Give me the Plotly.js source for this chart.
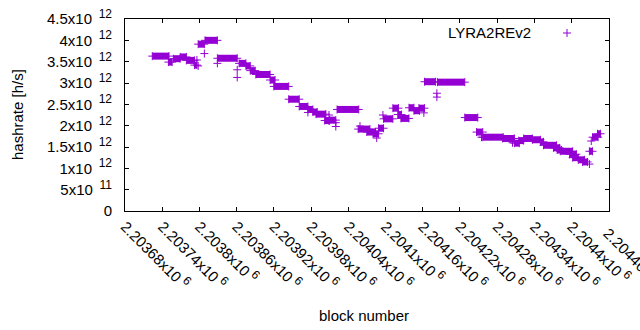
<!DOCTYPE html>
<html>
<head>
<meta charset="utf-8">
<script src="https://cdn.plot.ly/plotly-3.0.1.min.js"></script>
<style>html,body{margin:0;padding:0;background:#fff;}#chart{width:640px;height:330px;}</style>
</head>
<body>
<div id="chart"></div>
<script>
// Runs of consecutive blocks at (nearly) constant hashrate
const runStart = [2203724,2203750,2203758,2203769,2203779,2203792,2203798,2203809,2203829,2203864,
  2203875,2203882,2203891,2203914,2203920,2203944,2203961,2203975,2203983,2203988,
  2204002,2204010,2204022,2204056,2204070,2204080,2204089,2204097,2204112,2204120,
  2204125,2204138,2204146,2204154,2204163,2204184,2204228,2204247,2204257,2204289,
  2204308,2204315,2204323,2204337,2204350,2204355,2204371,2204377,2204382,2204397,
  2204402,2204411,2204418,2204429,2204434,2204442];
const runEnd = [2203751,2203756,2203769,2203779,2203792,2203796,2203808,2203829,2203861,2203875,
  2203882,2203890,2203914,2203922,2203944,2203961,2203975,2203983,2203990,2204004,
  2204010,2204020,2204057,2204075,2204084,2204089,2204097,2204112,2204121,2204126,
  2204138,2204146,2204155,2204163,2204181,2204228,2204249,2204257,2204290,2204308,
  2204316,2204323,2204337,2204350,2204355,2204376,2204381,2204384,2204402,2204408,
  2204411,2204421,2204426,2204434,2204443,2204447];
const runValue = [3.63e12,3.49e12,3.57e12,3.61e12,3.53e12,3.42e12,3.91e12,4.00e12,3.58e12,3.46e12,
  3.40e12,3.29e12,3.20e12,3.07e12,2.92e12,2.62e12,2.45e12,2.38e12,2.32e12,2.27e12,
  2.12e12,2.13e12,2.38e12,1.92e12,1.85e12,1.81e12,1.94e12,2.16e12,2.41e12,2.26e12,
  2.17e12,2.42e12,2.35e12,2.41e12,3.03e12,3.02e12,2.19e12,1.85e12,1.73e12,1.70e12,
  1.59e12,1.65e12,1.70e12,1.67e12,1.62e12,1.54e12,1.48e12,1.43e12,1.40e12,1.33e12,
  1.25e12,1.20e12,1.15e12,1.40e12,1.73e12,1.81e12];
// Isolated blocks
const ptBlock = [2203796,2203798,2203808,2203829,2203861,2203861,2203975,2204009,2204009,2204020,
  2204020,2204059,2204086,2204096,2204162,2204183,2204183,2204255,2204305,2204429,2204432];
const ptValue = [3.54e12,3.40e12,3.69e12,3.46e12,3.31e12,3.13e12,2.31e12,2.25e12,2.11e12,2.07e12,
  1.98e12,1.99e12,1.71e12,2.25e12,2.30e12,2.76e12,2.67e12,1.73e12,1.60e12,1.10e12,1.64e12];

const SUP = (s) => '<sup><span style="font-size:12px">\u00a0' + s + '</span></sup>';
const xTickVals = [2203680,2203740,2203800,2203860,2203920,2203980,2204040,2204100,2204160,2204220,2204280,2204340,2204400,2204460];
const xTickBase = ["2.20368x10","2.20374x10","2.2038x10","2.20386x10","2.20392x10","2.20398x10","2.20404x10",
  "2.2041x10","2.20416x10","2.20422x10","2.20428x10","2.20434x10","2.2044x10","2.20446x10"];
const xTickExp = ["6","6","6","6","6","6","6","6","6","6","6","6","6","6"];
const yTickVals = [0,0.5e12,1e12,1.5e12,2e12,2.5e12,3e12,3.5e12,4e12,4.5e12];
const yTickBase = ["0","5x10","1x10","1.5x10","2x10","2.5x10","3x10","3.5x10","4x10","4.5x10"];
const yTickExp = ["","11","12","12","12","12","12","12","12","12"];

const nX = xTickVals.length;
const xTickText = xTickBase.map((b, i) => b + SUP(xTickExp[i]));
const xTickShown = xTickText.map((t, i) => i === nX - 1 ? '' : t);
const yTickText = yTickBase.map((b, i) => yTickExp[i] ? b + SUP('\u00a0' + yTickExp[i]) : b);

const COLOR = '#9400d3';
const FONT = 'Liberation Sans, Arial, sans-serif';

const lx = [], ly = [];
for (let i = 0; i < runStart.length; i++) {
  lx.push(runStart[i], runEnd[i], null);
  ly.push(runValue[i], runValue[i], null);
}
const mx = runStart.concat(runEnd, ptBlock);
const my = runValue.concat(runValue, ptValue);

const traces = [
  {x: lx, y: ly, type: 'scatter', mode: 'lines', connectgaps: false,
   line: {color: COLOR, width: 7}, showlegend: false, hoverinfo: 'skip'},
  {x: mx, y: my, type: 'scatter', mode: 'markers', name: 'LYRA2REv2',
   marker: {symbol: 'cross-thin', size: 5.7, color: COLOR, line: {color: COLOR, width: 1}},
   showlegend: false, hoverinfo: 'skip'}
];

const pw = 484, ph = 192;
const cx = (567 - 125) / pw, cy = (211 - 33) / ph;
const dx = 4 / pw, dy = 4 / ph;

const layout = {
  width: 640, height: 330,
  margin: {l: 125, r: 31, t: 19, b: 119, pad: 0},
  paper_bgcolor: '#fff', plot_bgcolor: '#fff',
  font: {family: FONT, size: 15, color: '#000'},
  showlegend: false,
  xaxis: {
    range: [2203680, 2204460.6], tickmode: 'array', tickvals: xTickVals, ticktext: xTickShown,
    tickangle: 45, ticks: 'inside', ticklen: 4, tickcolor: '#000', tickwidth: 1,
    showline: true, mirror: 'ticks', linecolor: '#000', linewidth: 1,
    showgrid: false, zeroline: false, tickfont: {family: FONT, size: 15, color: '#000'}
  },
  yaxis: {
    range: [0, 4.5e12], tickmode: 'array', tickvals: yTickVals, ticktext: yTickText,
    ticks: 'inside', ticklen: 4, tickcolor: '#000', tickwidth: 1,
    showline: true, mirror: 'ticks', linecolor: '#000', linewidth: 1,
    showgrid: false, zeroline: false, ticklabelstandoff: 9,
    tickfont: {family: FONT, size: 15, color: '#000'}
  },
  annotations: [
    {text: 'hashrate [h/s]', xref: 'paper', yref: 'paper', x: (17 - 125) / pw, y: 0.5,
     xanchor: 'center', yanchor: 'middle', textangle: -90, showarrow: false,
     font: {family: FONT, size: 15, color: '#000'}},
    {text: 'block number', xref: 'paper', yref: 'paper', x: (364 - 125) / pw, y: (211 - 315) / ph,
     xanchor: 'center', yanchor: 'middle', showarrow: false,
     font: {family: FONT, size: 15, color: '#000'}},
    {text: 'LYRA2REv2', xref: 'paper', yref: 'paper', x: (533 - 125) / pw, y: cy,
     xanchor: 'right', yanchor: 'middle', showarrow: false,
     font: {family: FONT, size: 15, color: '#000'}},
    {text: xTickText[nX - 1], xref: 'x', yref: 'paper', x: xTickVals[nX - 1], xshift: -11,
     y: (211 - 220) / ph, xanchor: 'left', yanchor: 'top', textangle: 45, showarrow: false,
     font: {family: FONT, size: 15, color: '#000'}}
  ],
  shapes: [
    {type: 'line', xref: 'paper', yref: 'paper', x0: cx - dx, x1: cx + dx, y0: cy, y1: cy, line: {color: COLOR, width: 1}},
    {type: 'line', xref: 'paper', yref: 'paper', x0: cx, x1: cx, y0: cy - dy, y1: cy + dy, line: {color: COLOR, width: 1}}
  ]
};

Plotly.newPlot('chart', traces, layout, {staticPlot: true, displayModeBar: false});
</script>
</body>
</html>
